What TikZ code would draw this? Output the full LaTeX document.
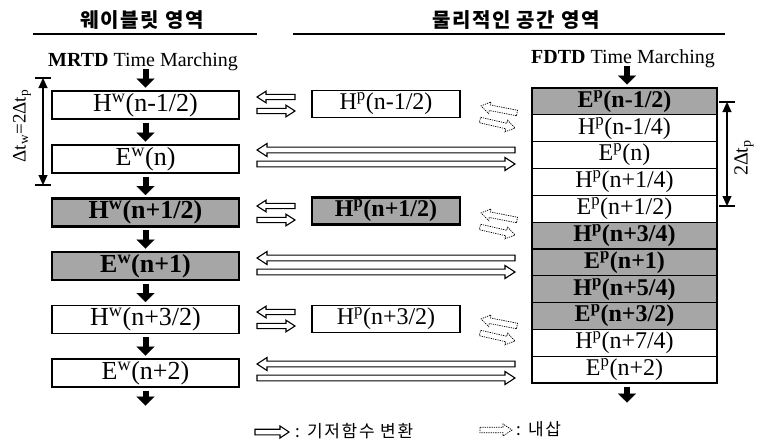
\documentclass[tikz,border=0pt]{standalone}
\usepackage{fontspec}
\setmainfont{Liberation Serif}
\newfontfamily\kor{Noto Sans CJK KR}
\usetikzlibrary{arrows.meta,calc}
\newcommand\boxfont{\fontsize{24}{26}\selectfont}
\newcommand\bigboxfont{\fontsize{26}{28}\selectfont}
\newcommand\hdfont{\fontsize{20}{22}\selectfont}
\newcommand\dimfont{\fontsize{19}{21}\selectfont}
\newcommand\korhead{\kor\bfseries\fontsize{20}{22}\selectfont\addfontfeature{LetterSpace=8}}
\newcommand\korleg{\kor\fontsize{17}{19}\selectfont\addfontfeature{LetterSpace=10}}
% hollow block arrow between two named coordinates: [style]{start}{tip}{shaft half width}{head half width}{head length}
\newcommand\blockarrow[6][]{%
  \coordinate (hb) at ($(#3)!#6!(#2)$);
  \draw[harrow,#1] ($(#2)!#4!90:(#3)$) -- ($(hb)!#4!90:(#3)$) -- ($(hb)!#5!90:(#3)$) -- (#3)
    -- ($(hb)!#5!-90:(#3)$) -- ($(hb)!#4!-90:(#3)$) -- ($(#2)!#4!-90:(#3)$) -- cycle;}
\begin{document}
\begin{tikzpicture}[x=1pt,y=-1pt,
  every node/.style={inner sep=0pt,outer sep=0pt},
  wbox/.style={draw, line width=1.4pt, minimum width=187pt, minimum height=28pt, font=\bigboxfont},
  gbox/.style={wbox, fill=gray!70, line width=2.4pt, font=\bigboxfont\bfseries},
  mbox/.style={draw, line width=1.4pt, minimum width=148pt, minimum height=27pt, font=\boxfont},
  mgbox/.style={mbox, fill=gray!70, line width=2.4pt, font=\boxfont\bfseries},
  rrow/.style={draw, line width=1.2pt, minimum width=185pt, minimum height=26.82pt, font=\boxfont},
  rgrow/.style={rrow, fill=gray!70, font=\boxfont\bfseries},
  darr/.style={line width=6pt, -{Triangle[width=18pt,length=9pt,line width=0.1pt]}, shorten <=3.5pt, shorten >=3.5pt},
  harrow/.style={draw, fill=white, line width=1.1pt, line join=miter},
  hdash/.style={dash pattern=on 1.3pt off 1pt, line width=0.7pt},
  dimline/.style={line width=1.3pt, {Triangle[width=9pt,length=10pt,line width=0.1pt]}-{Triangle[width=9pt,length=10pt,line width=0.1pt]}},
  barline/.style={line width=1.6pt},
  rule/.style={line width=1.2pt}
]
\useasboundingbox (0,0) rectangle (757,442);

% headers
\node[font=\korhead] (kh1) at (142,20) {웨이블릿 영역};
\node[font=\korhead] (kh2) at (516,20) {물리적인 공간 영역};
\draw[rule] (33,34) -- (257,34);
\draw[rule] (293,34) -- (725,34);
\node[anchor=base, font=\hdfont] (mrtd) at (143,66) {\textbf{MRTD} Time Marching};
\node[anchor=base, font=\hdfont] (fdtd) at (623,63) {\textbf{FDTD} Time Marching};

% left column
\node[wbox] (w1) at (145.5,105) {H\textsuperscript{w}(n-1/2)};
\node[wbox] (w2) at (145.5,159) {E\textsuperscript{w}(n)};
\node[gbox] (w3) at (145.5,212.5) {H\textsuperscript{w}(n+1/2)};
\node[gbox] (w4) at (145.5,266) {E\textsuperscript{w}(n+1)};
\node[wbox] (w5) at (145.5,319.5) {H\textsuperscript{w}(n+3/2)};
\node[wbox] (w6) at (145.5,373) {E\textsuperscript{w}(n+2)};
\coordinate (a0) at (145.5,65.5);
\coordinate (a7) at (145.5,409);
\draw[darr] (a0) -- (w1.north);
\draw[darr] (w1.south) -- (w2.north);
\draw[darr] (w2.south) -- (w3.north);
\draw[darr] (w3.south) -- (w4.north);
\draw[darr] (w4.south) -- (w5.north);
\draw[darr] (w5.south) -- (w6.north);
\draw[darr] (w6.south) -- (a7);

% left dimension
\coordinate (lt) at (43,78);
\coordinate (lb) at (43,185);
\draw[dimline] (lt) -- (lb);
\draw[barline] ([xshift=-8pt]lt) -- ([xshift=8pt]lt);
\draw[barline] ([xshift=-8pt]lb) -- ([xshift=8pt]lb);
\node[rotate=90, font=\dimfont] (lbl1) at (22,126) {Δt\textsubscript{w}=2Δt\textsubscript{p}};

% middle column
\node[mbox] (m1) at (386,104) {H\textsuperscript{p}(n-1/2)};
\node[mgbox] (m3) at (386,211) {H\textsuperscript{p}(n+1/2)};
\node[mbox] (m5) at (386,319) {H\textsuperscript{p}(n+3/2)};

% right column
\node[rgrow] (r1) at (624.5,101.41) {E\textsuperscript{p}(n-1/2)};
\node[rrow] (r2) at (624.5,128.23) {H\textsuperscript{p}(n-1/4)};
\node[rrow] (r3) at (624.5,155.05) {E\textsuperscript{p}(n)};
\node[rrow] (r4) at (624.5,181.87) {H\textsuperscript{p}(n+1/4)};
\node[rrow] (r5) at (624.5,208.69) {E\textsuperscript{p}(n+1/2)};
\node[rgrow] (r6) at (624.5,235.51) {H\textsuperscript{p}(n+3/4)};
\node[rgrow] (r7) at (624.5,262.33) {E\textsuperscript{p}(n+1)};
\node[rgrow] (r8) at (624.5,289.15) {H\textsuperscript{p}(n+5/4)};
\node[rgrow] (r9) at (624.5,315.97) {E\textsuperscript{p}(n+3/2)};
\node[rrow] (r10) at (624.5,342.79) {H\textsuperscript{p}(n+7/4)};
\node[rrow] (r11) at (624.5,369.61) {E\textsuperscript{p}(n+2)};
\draw[line width=2.2pt] (r1.north west) rectangle (r11.south east);
\coordinate (b0) at (627,62.5);
\coordinate (b12) at (627,406);
\draw[darr] (b0) -- (r1.north -| b0);
\draw[darr] (r11.south -| b12) -- (b12);

% right dimension
\coordinate (rt) at (727,102);
\coordinate (rb) at (727,206);
\draw[dimline] (rt) -- (rb);
\draw[barline] ([xshift=-8pt]rt) -- ([xshift=8pt]rt);
\draw[barline] ([xshift=-8pt]rb) -- ([xshift=8pt]rb);
\node[rotate=90, font=\hdfont] (lbl2) at (744,158) {2Δt\textsubscript{p}};

% short double arrows (left <-> middle)
\coordinate (s1a) at (295,97);  \coordinate (s1b) at (257,97);
\coordinate (s1c) at (257,111); \coordinate (s1d) at (295,111);
\coordinate (s3a) at (295,206); \coordinate (s3b) at (257,206);
\coordinate (s3c) at (257,220); \coordinate (s3d) at (295,220);
\coordinate (s5a) at (295,312); \coordinate (s5b) at (257,312);
\coordinate (s5c) at (257,326); \coordinate (s5d) at (295,326);
\blockarrow{s1a}{s1b}{2.6pt}{5.8pt}{9pt}
\blockarrow{s1c}{s1d}{2.6pt}{5.8pt}{9pt}
\blockarrow{s3a}{s3b}{2.6pt}{5.8pt}{9pt}
\blockarrow{s3c}{s3d}{2.6pt}{5.8pt}{9pt}
\blockarrow{s5a}{s5b}{2.6pt}{5.8pt}{9pt}
\blockarrow{s5c}{s5d}{2.6pt}{5.8pt}{9pt}

% long double arrows (left <-> right)
\coordinate (l2a) at (515,150); \coordinate (l2b) at (257,150);
\coordinate (l2c) at (257,164); \coordinate (l2d) at (515,164);
\coordinate (l4a) at (515,258); \coordinate (l4b) at (257,258);
\coordinate (l4c) at (257,272); \coordinate (l4d) at (515,272);
\coordinate (l6a) at (515,364); \coordinate (l6b) at (257,364);
\coordinate (l6c) at (257,378); \coordinate (l6d) at (515,378);
\blockarrow{l2a}{l2b}{2.9pt}{6.5pt}{10pt}
\blockarrow{l2c}{l2d}{2.9pt}{6.5pt}{10pt}
\blockarrow{l4a}{l4b}{2.9pt}{6.5pt}{10pt}
\blockarrow{l4c}{l4d}{2.9pt}{6.5pt}{10pt}
\blockarrow{l6a}{l6b}{2.9pt}{6.5pt}{10pt}
\blockarrow{l6c}{l6d}{2.9pt}{6.5pt}{10pt}

% dashed interpolation arrows (middle <-> right)
\coordinate (q1a) at (517,113); \coordinate (q1b) at (481,106);
\coordinate (q1c) at (480,120); \coordinate (q1d) at (515,128);
\coordinate (q3a) at (517,220); \coordinate (q3b) at (481,213);
\coordinate (q3c) at (480,227); \coordinate (q3d) at (515,235);
\coordinate (q5a) at (517,326); \coordinate (q5b) at (481,319);
\coordinate (q5c) at (480,333); \coordinate (q5d) at (515,341);
\blockarrow[hdash]{q1a}{q1b}{2.8pt}{6pt}{9pt}
\blockarrow[hdash]{q1c}{q1d}{2.8pt}{6pt}{9pt}
\blockarrow[hdash]{q3a}{q3b}{2.8pt}{6pt}{9pt}
\blockarrow[hdash]{q3c}{q3d}{2.8pt}{6pt}{9pt}
\blockarrow[hdash]{q5a}{q5b}{2.8pt}{6pt}{9pt}
\blockarrow[hdash]{q5c}{q5d}{2.8pt}{6pt}{9pt}

% legend
\coordinate (g1a) at (255,432); \coordinate (g1b) at (289,432);
\blockarrow{g1a}{g1b}{2.8pt}{6pt}{9pt}
\node[anchor=west, font=\korleg] (gt1) at (295,431) {: 기저함수 변환};
\coordinate (g2a) at (480,430); \coordinate (g2b) at (512,430);
\blockarrow[hdash]{g2a}{g2b}{2.8pt}{6pt}{9pt}
\node[anchor=west, font=\korleg] (gt2) at (516,429) {: 내삽};
\end{tikzpicture}
\end{document}
